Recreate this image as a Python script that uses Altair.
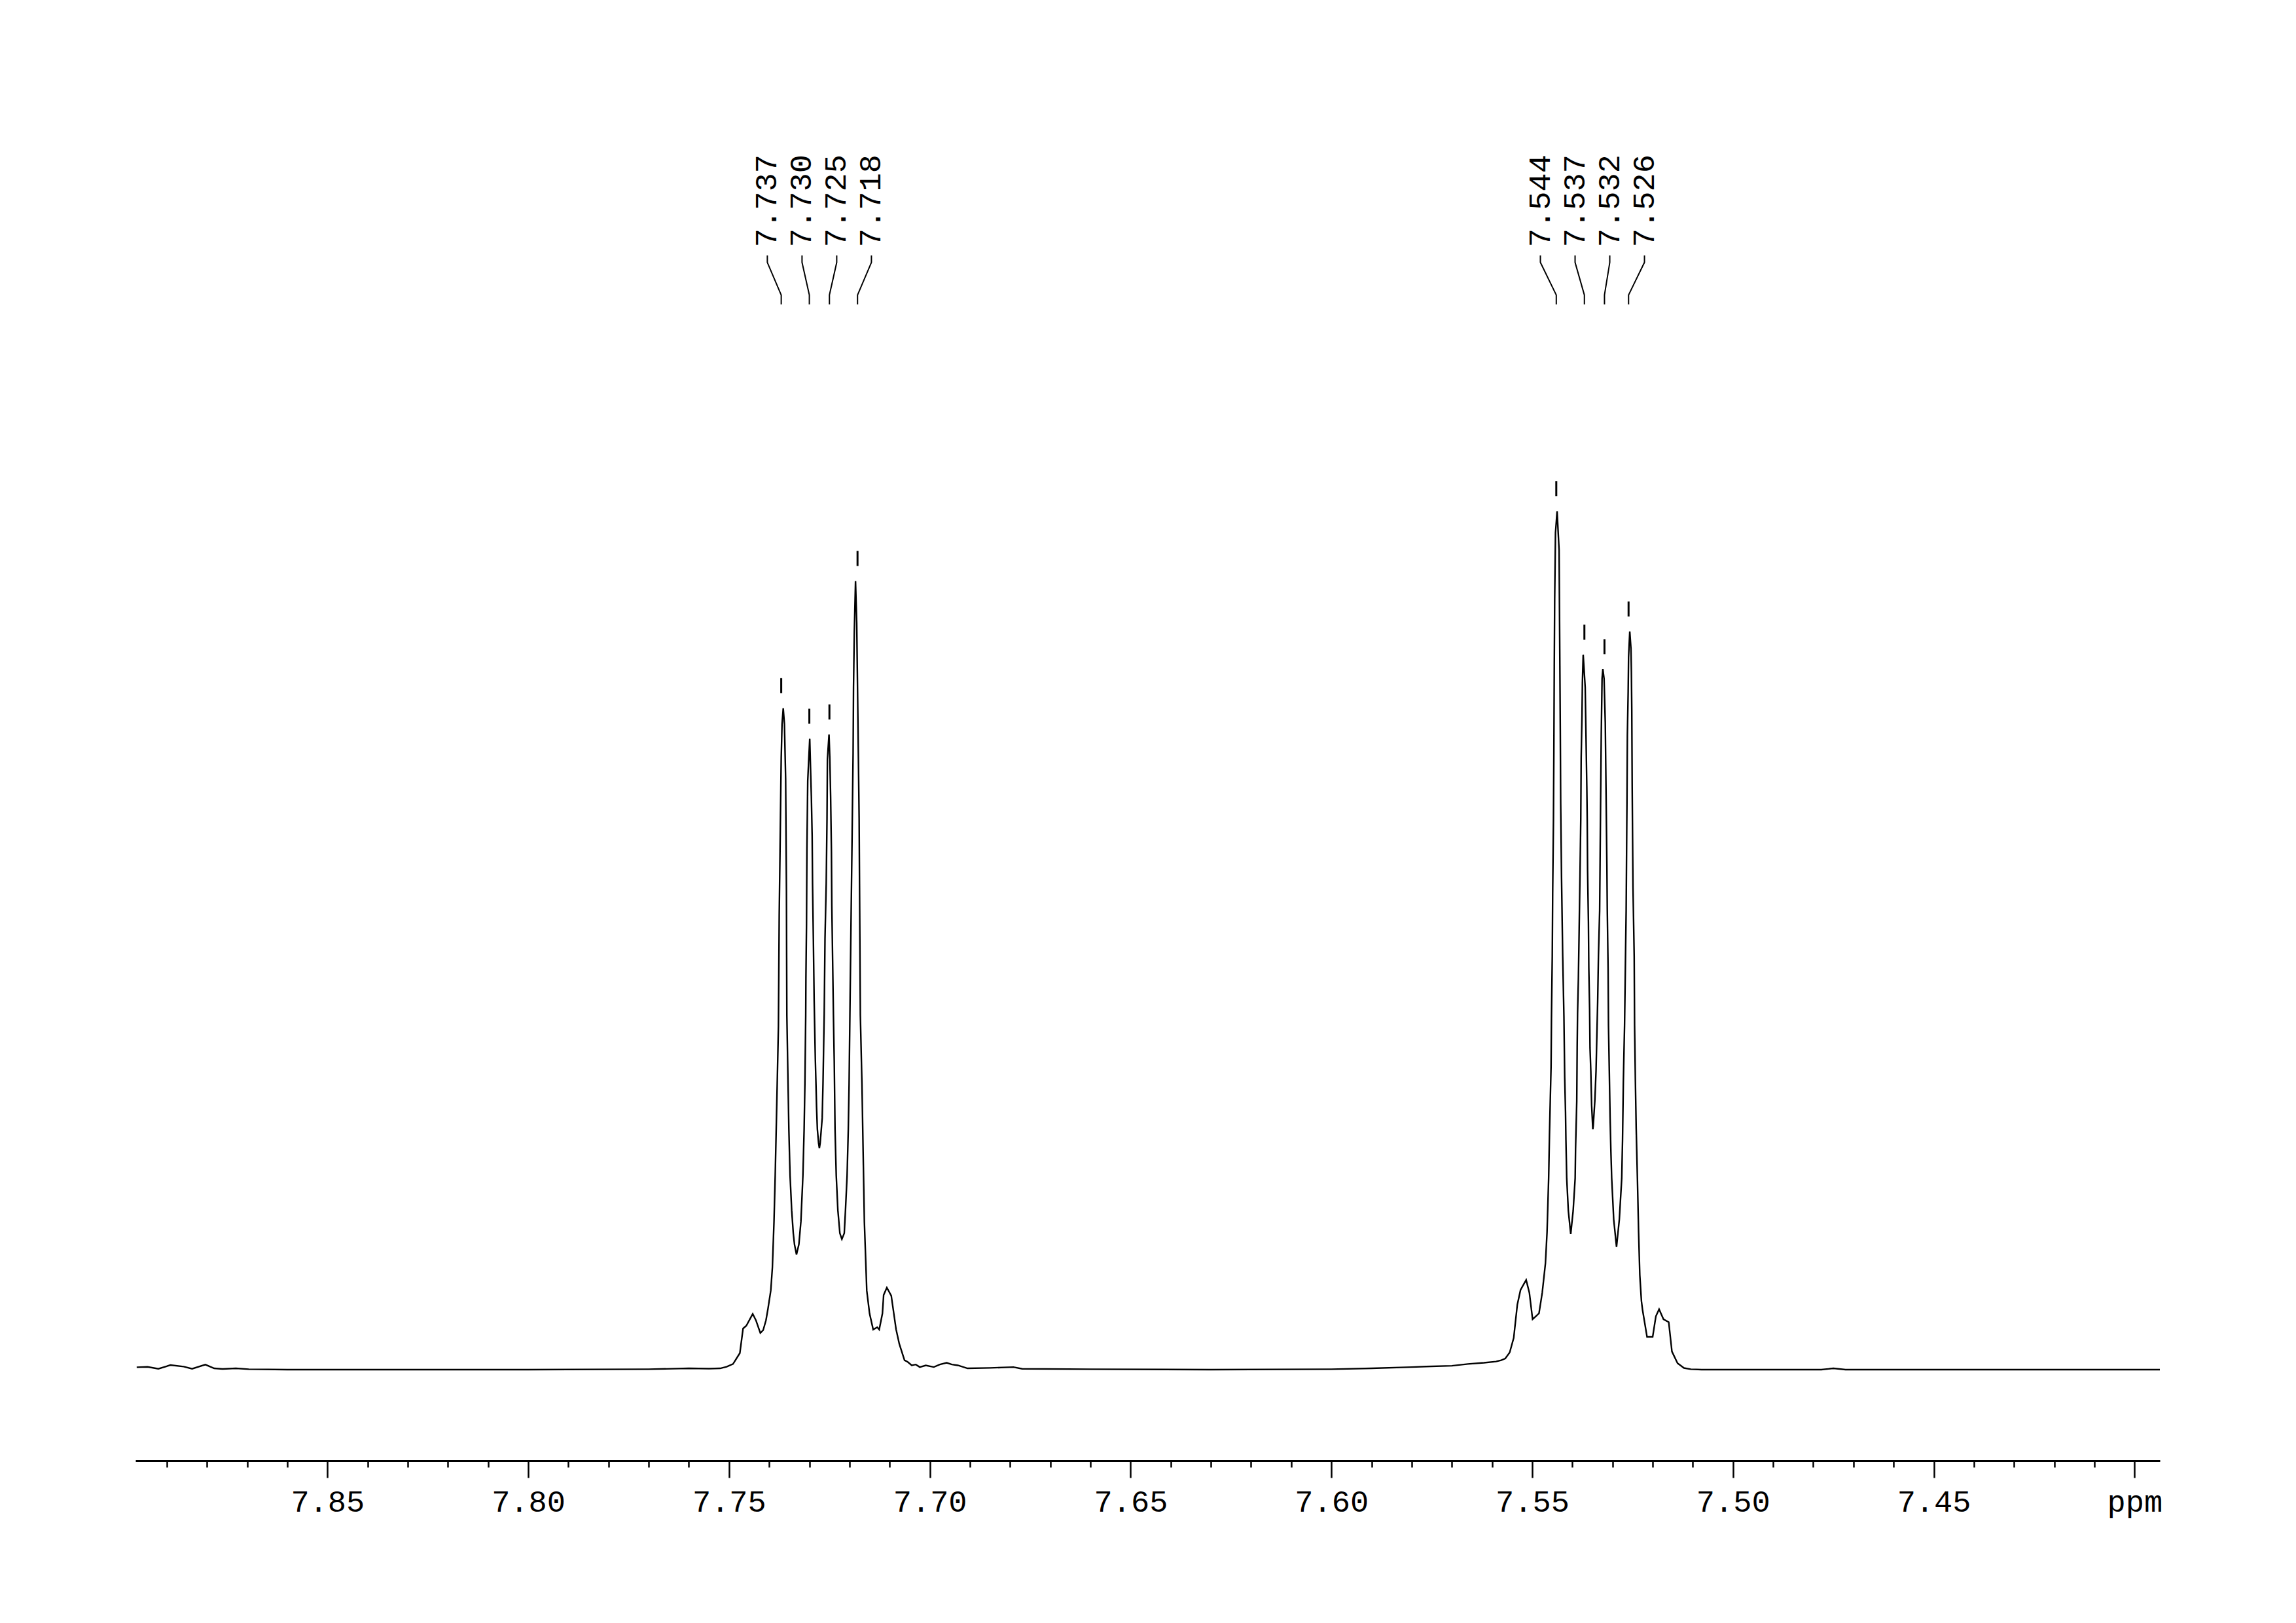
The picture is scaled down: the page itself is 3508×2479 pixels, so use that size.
import altair as alt
import pandas as pd

# ---- spectrum: (ppm, relative intensity; tallest peak = 100)
left_baseline = [
    (7.8975, 0.28), (7.8948, 0.33), (7.8921, 0.10), (7.8891, 0.53), (7.8858, 0.36),
    (7.8837, 0.10), (7.8804, 0.59), (7.8782, 0.15), (7.8761, 0.08), (7.8728, 0.15),
    (7.8696, 0.05), (7.8600, 0.00), (7.8000, 0.00), (7.7700, 0.05), (7.7600, 0.15),
    (7.7550, 0.12),
]
left_multiplet = [
    (7.7522, 0.15), (7.7506, 0.34), (7.7490, 0.66), (7.7473, 1.93), (7.7465, 4.79),
    (7.7457, 5.11), (7.7441, 6.5), (7.7433, 5.75), (7.7422, 4.27), (7.7415, 4.6),
    (7.7408, 5.74), (7.7403, 7.1), (7.7396, 9.22), (7.7392, 11.9), (7.7388, 17.25),
    (7.7385, 22.6), (7.7380, 33.3), (7.7377, 40.0), (7.7376, 46.2), (7.7375, 53.0),
    (7.7373, 60.4), (7.7371, 67.8), (7.7370, 71.3), (7.7368, 75.2), (7.7365, 77.06),
    (7.7362, 75.2), (7.7359, 68.8), (7.7358, 62.2), (7.7357, 55.8), (7.73565, 48.0),
    (7.7356, 41.3), (7.7353, 33.3), (7.7351, 28.0), (7.7348, 22.6), (7.7344, 18.6),
    (7.7340, 15.9), (7.7337, 14.6), (7.7332, 13.4), (7.7326, 14.6), (7.7321, 17.25),
    (7.7316, 22.6), (7.7313, 28.0), (7.7311, 33.3), (7.7309, 41.3), (7.73085, 45.7),
    (7.7307, 52.0), (7.7306, 60.7), (7.7304, 68.6), (7.7302, 70.6), (7.7299, 73.5),
    (7.7297, 70.1), (7.7295, 66.8), (7.7293, 62.2), (7.7292, 56.6), (7.7290, 50.2),
    (7.7288, 43.0), (7.7285, 36.0), (7.7282, 30.6), (7.7280, 28.0), (7.7277, 26.4),
    (7.7275, 25.8), (7.7273, 26.4), (7.7268, 29.3), (7.7266, 33.3), (7.7263, 41.3),
    (7.7261, 50.2), (7.7258, 56.6), (7.7256, 64.2), (7.7255, 71.1), (7.7251, 74.0),
    (7.7249, 71.3), (7.7247, 66.8), (7.7245, 60.4), (7.7244, 54.05), (7.7242, 47.7),
    (7.7240, 41.3), (7.7238, 36.0), (7.7236, 28.0), (7.7233, 22.6), (7.7229, 18.6),
    (7.7224, 15.9), (7.7219, 15.2), (7.7213, 15.9), (7.7210, 18.6), (7.7206, 22.6),
    (7.7203, 28.0), (7.7201, 33.3), (7.7199, 41.3), (7.7197, 49.0), (7.7195, 56.6),
    (7.7193, 64.2), (7.7191, 71.85), (7.7190, 79.5), (7.7188, 86.0), (7.7185, 91.88),
    (7.7182, 87.0), (7.7180, 79.5), (7.7178, 71.85), (7.7176, 64.2), (7.7175, 56.6),
    (7.7174, 49.0), (7.7173, 41.3), (7.7169, 33.3), (7.7166, 25.3), (7.7163, 17.25),
    (7.7159, 11.9), (7.7157, 9.2), (7.7150, 6.54), (7.7141, 4.67), (7.7131, 4.94),
    (7.7126, 4.67), (7.7118, 6.54), (7.7115, 8.69), (7.7107, 9.56), (7.7096, 8.61),
    (7.7088, 6.0), (7.7084, 4.7), (7.7076, 3.0), (7.7063, 1.1), (7.7055, 0.9),
]
middle_baseline = [
    (7.7045, 0.5), (7.7035, 0.6), (7.7025, 0.3), (7.7010, 0.5), (7.6990, 0.3),
    (7.6975, 0.6), (7.6958, 0.8), (7.6945, 0.6), (7.6930, 0.5), (7.6906, 0.15),
    (7.6850, 0.2), (7.6792, 0.3), (7.6770, 0.1), (7.6600, 0.05), (7.6300, 0.0),
    (7.6000, 0.05), (7.5900, 0.15), (7.5800, 0.3), (7.5764, 0.36), (7.5700, 0.45),
    (7.5660, 0.66), (7.5620, 0.8), (7.5590, 0.95), (7.5577, 1.1),
]
right_multiplet = [
    (7.5567, 1.3), (7.5556, 2.0), (7.5546, 3.7), (7.5537, 7.58), (7.5529, 9.29),
    (7.5515, 10.46), (7.5507, 8.95), (7.5499, 5.87), (7.5491, 6.21), (7.5483, 6.56),
    (7.5475, 8.95), (7.5467, 12.38), (7.5463, 16.0), (7.5459, 22.3), (7.5457, 27.3),
    (7.5455, 31.3), (7.5453, 35.3), (7.5452, 40.9), (7.5450, 48.2), (7.5449, 55.4),
    (7.5447, 64.2), (7.5446, 72.0), (7.5445, 82.0), (7.5444, 89.7), (7.5442, 97.5),
    (7.5438, 100.0), (7.5433, 95.5), (7.5432, 88.4), (7.5431, 81.5), (7.5430, 74.4),
    (7.5429, 66.0), (7.5427, 57.5), (7.5424, 48.2), (7.5421, 41.2), (7.5419, 34.0),
    (7.5417, 30.0), (7.5416, 26.8), (7.5414, 22.3), (7.5410, 18.5), (7.5404, 15.8),
    (7.5398, 18.5), (7.5393, 22.3), (7.5392, 25.7), (7.5389, 31.3), (7.5388, 37.5),
    (7.5387, 41.5), (7.5385, 45.5), (7.5383, 51.4), (7.5381, 57.5), (7.5379, 64.2),
    (7.5378, 71.3), (7.5376, 76.2), (7.5375, 80.0), (7.5373, 83.3), (7.5368, 79.5),
    (7.5366, 73.9), (7.5364, 68.0), (7.5363, 64.2), (7.5362, 58.1), (7.5360, 52.2),
    (7.5359, 46.8), (7.5357, 42.0), (7.5356, 37.5), (7.5354, 34.8), (7.5352, 30.8),
    (7.5349, 28.0), (7.5348, 28.4), (7.5344, 31.3), (7.5341, 34.8), (7.5339, 38.8),
    (7.5337, 42.8), (7.5335, 48.2), (7.5332, 53.5), (7.5331, 58.9), (7.5330, 64.2),
    (7.5328, 74.0), (7.5326, 80.5), (7.5324, 81.6), (7.5321, 80.5), (7.5318, 75.4),
    (7.5316, 67.0), (7.5314, 58.9), (7.5313, 53.5), (7.5311, 46.8), (7.5310, 40.1),
    (7.5308, 34.8), (7.5306, 29.4), (7.5304, 25.4), (7.5302, 22.3), (7.5297, 17.5),
    (7.5290, 14.3), (7.5283, 17.5), (7.5277, 22.3), (7.5275, 26.8), (7.5273, 33.5),
    (7.5270, 40.1), (7.5268, 46.8), (7.5266, 53.5), (7.5265, 60.0), (7.5264, 66.0),
    (7.5263, 73.9), (7.5261, 79.0), (7.5260, 83.0), (7.5257, 86.0), (7.5254, 84.0),
    (7.5253, 81.3), (7.5252, 76.9), (7.5251, 68.0), (7.5250, 62.0), (7.5249, 56.2),
    (7.5246, 48.2), (7.5245, 40.1), (7.5243, 33.5), (7.5241, 28.1), (7.5238, 22.3),
    (7.5235, 16.0), (7.5232, 11.0), (7.5228, 8.0), (7.5225, 6.9), (7.5214, 3.82),
    (7.5200, 3.82), (7.5192, 6.21), (7.5184, 7.04), (7.5173, 5.87), (7.5160, 5.53),
    (7.5152, 2.11), (7.5138, 0.74), (7.5122, 0.19), (7.5105, 0.05),
]
right_baseline = [
    (7.5078, 0.0), (7.4900, 0.0), (7.4780, 0.0), (7.4750, 0.15), (7.4720, 0.0),
    (7.4000, 0.0), (7.3937, 0.0),
]

peak_ppm = [7.737, 7.730, 7.725, 7.718, 7.544, 7.537, 7.532, 7.526]
peak_height = [77.06, 73.5, 74.0, 91.88, 100.0, 83.3, 81.6, 86.0]
peak_group = [0, 0, 0, 0, 1, 1, 1, 1]

major_ticks = [7.85, 7.80, 7.75, 7.70, 7.65, 7.60, 7.55, 7.50, 7.45, 7.40]
all_ticks = [round(7.89 - 0.01 * i, 2) for i in range(50)]

# ---- layout / style constants
X_DOMAIN = [7.3937, 7.8978]
Y_DOMAIN = [-10.6, 158.96]
LABEL_STEP = 0.00864
LABEL_Y = 130.8
CONN_Y = [129.8, 129.0, 125.2, 124.1]
FONT = "Liberation Mono"

xs = alt.Scale(domain=X_DOMAIN, reverse=True, nice=False, zero=False)
ys = alt.Scale(domain=Y_DOMAIN, nice=False, zero=False)

points = left_baseline + left_multiplet + middle_baseline + right_multiplet + right_baseline
spec = pd.DataFrame(points, columns=["ppm", "intensity"])
spec["i"] = range(len(spec))

peaks = pd.DataFrame({"ppm": peak_ppm, "h": peak_height, "g": peak_group})
peaks["label"] = [f"{p:.3f}" for p in peak_ppm]
lab_x = []
for g in sorted(set(peak_group)):
    members = [p for p, gg in zip(peak_ppm, peak_group) if gg == g]
    center = (members[0] + members[-1]) / 2
    n = len(members)
    for i in range(n):
        lab_x.append(center + ((n - 1) / 2 - i) * LABEL_STEP)
peaks["lx"] = lab_x

conn_rows = []
for k, row in peaks.iterrows():
    pts = [row["lx"], row["lx"], row["ppm"], row["ppm"]]
    for j, (px, py) in enumerate(zip(pts, CONN_Y)):
        conn_rows.append({"id": k, "o": j, "x": px, "y": py})
conn = pd.DataFrame(conn_rows)

major_test = "abs(datum.value*20 - round(datum.value*20)) < 0.001"
x_axis = alt.Axis(
    values=all_ticks,
    labelExpr=(
        "datum.value < 7.405 ? 'ppm' : (" + major_test +
        " ? format(datum.value, '.2f') : '')"
    ),
    tickSize={"condition": {"test": major_test, "value": 26}, "value": 10},
    tickWidth=2.5,
    tickColor="black",
    domainColor="black",
    domainWidth=3,
    grid=False,
    title=None,
    labelFont=FONT,
    labelFontSize=47,
    labelColor="black",
    labelBaseline="alphabetic",
    labelPadding=51,
    labelFlush=False,
    labelOverlap=False,
    labelBound=False,
)

line = alt.Chart(spec).mark_line(color="black", strokeWidth=2.4, interpolate="linear").encode(
    x=alt.X("ppm:Q", scale=xs, axis=x_axis),
    y=alt.Y("intensity:Q", scale=ys, axis=None),
    order="i:Q",
)

markers = alt.Chart(peaks).transform_calculate(
    y1="datum.h + 1.75", y2="datum.h + 3.5"
).mark_rule(color="black", strokeWidth=3).encode(
    x=alt.X("ppm:Q", scale=xs),
    y=alt.Y("y1:Q", scale=ys),
    y2="y2:Q",
)

connectors = alt.Chart(conn).mark_line(color="black", strokeWidth=2).encode(
    x=alt.X("x:Q", scale=xs),
    y=alt.Y("y:Q", scale=ys),
    detail="id:N",
    order="o:Q",
)

labels = alt.Chart(peaks).transform_calculate(ly=str(LABEL_Y)).mark_text(
    angle=270, align="left", baseline="middle", font=FONT, fontSize=47, color="black"
).encode(
    x=alt.X("lx:Q", scale=xs),
    y=alt.Y("ly:Q", scale=ys),
    text="label:N",
)

chart = alt.layer(line, markers, connectors, labels).properties(
    width=3093,
    height=2223,
    autosize=alt.AutoSizeParams(type="none"),
    padding={"left": 199, "top": 0, "right": 200, "bottom": 240},
    background="white",
).configure_view(stroke=None)

chart.save("out.html", embed_options={"renderer": "svg", "actions": False})
